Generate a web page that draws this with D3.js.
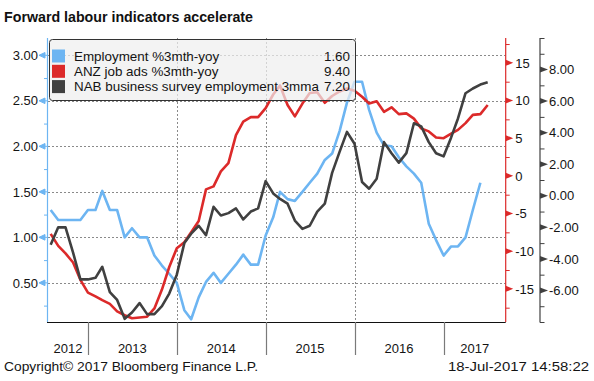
<!DOCTYPE html>
<html><head><meta charset="utf-8">
<script src="https://cdn.jsdelivr.net/npm/d3@7"></script>
<style>
html,body{margin:0;padding:0;background:#fff;}
svg text{font-family:"Liberation Sans",Arial,sans-serif;}
</style></head>
<body><svg id="c" width="594" height="381"></svg>
<script>
// ---------- data ----------
const months = ["2012-08","2012-09","2012-10","2012-11","2012-12",
"2013-01","2013-02","2013-03","2013-04","2013-05","2013-06","2013-07","2013-08","2013-09","2013-10","2013-11","2013-12",
"2014-01","2014-02","2014-03","2014-04","2014-05","2014-06","2014-07","2014-08","2014-09","2014-10","2014-11","2014-12",
"2015-01","2015-02","2015-03","2015-04","2015-05","2015-06","2015-07","2015-08","2015-09","2015-10","2015-11","2015-12",
"2016-01","2016-02","2016-03","2016-04","2016-05","2016-06","2016-07","2016-08","2016-09","2016-10","2016-11","2016-12",
"2017-01","2017-02","2017-03","2017-04","2017-05","2017-06","2017-07"];
const employment = [1.30,1.19,1.19,1.19,1.19,
1.30,1.30,1.51,1.30,1.30,1.00,1.10,1.00,1.00,0.80,0.69,0.60,
0.50,0.20,0.10,0.34,0.51,0.61,0.50,0.60,0.70,0.81,0.70,0.70,
1.02,1.22,1.50,1.42,1.40,1.50,1.60,1.70,1.85,1.92,2.17,2.48,
2.71,2.71,2.40,2.15,2.01,2.00,1.88,1.78,1.70,1.60,1.15,0.97,
0.80,0.90,0.90,1.00,1.30,1.60];
const jobAds = [-7.7,-9.3,-10.3,-11.5,-13.8,
-15.5,-16.0,-16.5,-17.0,-18.0,-18.5,-18.9,-18.8,-18.7,-17.6,-15.1,-12.1,
-9.6,-8.8,-7.5,-6.0,-1.8,-1.4,0.6,1.7,5.4,7.2,7.8,7.8,
9.0,10.8,12.0,9.4,7.9,9.6,11.0,11.1,9.7,10.6,11.2,11.6,
11.3,10.5,9.6,9.9,8.5,9.1,8.2,8.3,7.6,6.3,5.9,5.1,
5.0,5.6,6.1,7.0,8.1,8.2,9.4];
const nab = [-3.1,-2.0,-2.0,-3.6,-5.3,
-5.3,-5.2,-4.5,-6.1,-6.6,-7.8,-7.4,-6.8,-7.5,-7.5,-7.0,-6.2,
-5.0,-3.0,-2.4,-1.9,-2.5,-0.7,-1.25,-1.1,-0.8,-1.5,-1.0,-0.8,
0.93,0.15,-0.2,-0.5,-1.57,-2.1,-1.9,-1.0,-0.5,1.45,2.8,4.05,
3.3,0.87,0.45,1.08,3.4,2.7,2.1,2.7,4.6,4.4,3.4,2.7,
2.5,3.7,4.9,6.5,6.8,7.05,7.2];
const seriesNames = ["Employment %3mth-yoy","ANZ job ads %3mth-yoy","NAB business survey employment 3mma"];
const lastValues = ["1.60","9.40","7.20"];
const leftTicks = [0.5,1.0,1.5,2.0,2.5,3.0];
const redTicks = [-15,-10,-5,0,5,10,15];
const darkTicks = [-6,-4,-2,0,2,4,6,8];
const years = [2012,2013,2014,2015,2016,2017];
const gridYears = [2014,2015,2016];
const titleText = "Forward labour indicators accelerate";
const footLeft = "Copyright\u00A9 2017 Bloomberg Finance L.P.";
const footRight = "18-Jul-2017 14:58:22";

// ---------- layout ----------
const L = 48, R = 505.7, T = 38, B = 322, DX = 540;
const colBlue = "#6db5f2", colRed = "#dc2a2a", colDark = "#404040", txt = "#141414";
const parse = d3.timeParse("%Y-%m");
const dates = months.map(parse);
const x = d3.scaleTime().domain([new Date(2012,6,21), new Date(2017,8,13)]).range([L, R]);
const yL = d3.scaleLinear().domain([0.07, 3.19]).range([B, T]);
const yR = d3.scaleLinear().domain([-19.4, 18.3]).range([B, T]);
const yD = d3.scaleLinear().domain([-8, 10]).range([B, T]);

const svg = d3.select("#c");
svg.append("text").attr("x",4).attr("y",22).attr("font-size",14).attr("font-weight","bold")
  .attr("fill","#111").attr("textLength",249).attr("lengthAdjust","spacingAndGlyphs").text(titleText);

svg.append("defs").append("clipPath").attr("id","clip").append("rect")
  .attr("x",L).attr("y",T).attr("width",R-L).attr("height",B-T);

// gridlines
const grid = svg.append("g").attr("stroke","#8a8a8a").attr("stroke-dasharray","2,2").attr("stroke-width",1);
leftTicks.forEach(v=>grid.append("line").attr("x1",L).attr("x2",R).attr("y1",Math.round(yL(v))+0.5).attr("y2",Math.round(yL(v))+0.5));
gridYears.forEach(yr=>{const xx=Math.round(x(new Date(yr,0,1)))+0.5;
  grid.append("line").attr("x1",xx).attr("x2",xx).attr("y1",T).attr("y2",B);});

// lines
const plot = svg.append("g").attr("clip-path","url(#clip)");
function drawLine(vals, ys, col){
  const pts = vals.map((v,i)=>[dates[i], v]);
  plot.append("path").datum(pts).attr("fill","none").attr("stroke",col).attr("stroke-width",2.6)
    .attr("stroke-linejoin","round")
    .attr("d", d3.line().x(d=>x(d[0])).y(d=>ys(d[1])));
}
drawLine(employment, yL, colBlue);
drawLine(jobAds, yR, colRed);
drawLine(nab, yD, colDark);

// legend
const lg = svg.append("g");
lg.append("rect").attr("x",49.5).attr("y",39.5).attr("width",306).attr("height",61).attr("rx",3)
  .attr("fill","#efefef").attr("fill-opacity",0.72).attr("stroke","#333").attr("stroke-width",1);
[colBlue,colRed,colDark].forEach((c,i)=>{
  const cy = 56 + i*15.3;
  lg.append("rect").attr("x",52).attr("y",cy-6.5).attr("width",13).attr("height",13).attr("fill",c);
  lg.append("text").attr("x",74).attr("y",cy+4.5).attr("font-size",13.4).attr("fill",txt).text(seriesNames[i]);
  lg.append("text").attr("x",350).attr("y",cy+4.5).attr("font-size",13.4).attr("fill",txt).attr("text-anchor","end").text(lastValues[i]);
});

// left axis
const gl = svg.append("g").attr("transform",`translate(${L},0)`)
  .call(d3.axisLeft(yL).tickValues(leftTicks).tickFormat(d3.format(".2f")).tickSize(0).tickPadding(10));
gl.select(".domain").remove();
gl.selectAll("text").attr("font-size",13).attr("fill",txt).attr("font-family","Liberation Sans, Arial, sans-serif");
const glm = svg.append("g").attr("transform",`translate(${L},0)`)
  .call(d3.axisLeft(yL).tickValues(d3.range(0.25,3.2,0.5)).tickFormat("").tickSize(4));
glm.select(".domain").remove(); glm.selectAll("line").attr("stroke",colBlue);
leftTicks.forEach(v=>{const yy=yL(v);
  svg.append("path").attr("d",`M${L},${yy}L${L-3},${yy}M${L-3},${yy-2.8}L${L-9},${yy}L${L-3},${yy+2.8}Z`)
    .attr("fill",colBlue).attr("stroke",colBlue).attr("stroke-width",1);});
svg.append("line").attr("x1",L-0.5).attr("x2",L-0.5).attr("y1",T).attr("y2",B).attr("stroke",colBlue).attr("stroke-width",1.2);

// red axis
const gr = svg.append("g").attr("transform",`translate(${R},0)`)
  .call(d3.axisRight(yR).tickValues(redTicks).tickFormat(d3.format("d")).tickSize(0).tickPadding(9.5));
gr.select(".domain").remove();
gr.selectAll("text").attr("font-size",13).attr("fill",txt).attr("font-family","Liberation Sans, Arial, sans-serif")
  .text(d=>d<0?"-"+Math.abs(d):d);
const grm = svg.append("g").attr("transform",`translate(${R},0)`)
  .call(d3.axisRight(yR).tickValues(d3.range(-17.5,18,5)).tickFormat("").tickSize(4));
grm.select(".domain").remove(); grm.selectAll("line").attr("stroke",colRed);
redTicks.forEach(v=>{const yy=yR(v);
  svg.append("path").attr("d",`M${R},${yy-3}L${R+7.5},${yy}L${R},${yy+3}Z`).attr("fill",colRed);});
svg.append("line").attr("x1",R).attr("x2",R).attr("y1",T).attr("y2",B).attr("stroke",colRed).attr("stroke-width",1.2);

// dark axis
const gd = svg.append("g").attr("transform",`translate(${DX},0)`)
  .call(d3.axisRight(yD).tickValues(darkTicks).tickFormat(d=>d<0?"-"+d3.format(".2f")(-d):d3.format(".2f")(d)).tickSize(0).tickPadding(9));
gd.select(".domain").remove();
gd.selectAll("text").attr("font-size",13).attr("fill",txt).attr("font-family","Liberation Sans, Arial, sans-serif");
const gdm = svg.append("g").attr("transform",`translate(${DX},0)`)
  .call(d3.axisRight(yD).tickValues(d3.range(-7,10,2).concat([-8,10])).tickFormat("").tickSize(4.5));
gdm.select(".domain").remove(); gdm.selectAll("line").attr("stroke",colDark);
darkTicks.forEach(v=>{const yy=yD(v);
  svg.append("path").attr("d",`M${DX},${yy-3}L${DX+8},${yy}L${DX},${yy+3}Z`).attr("fill",colDark);});
svg.append("line").attr("x1",DX).attr("x2",DX).attr("y1",T).attr("y2",B+0.5).attr("stroke",colDark).attr("stroke-width",1.2);

// bottom axis
svg.append("line").attr("x1",L-1).attr("x2",R).attr("y1",B+0.5).attr("y2",B+0.5).attr("stroke","#111").attr("stroke-width",1.2);
years.slice(1).forEach(yr=>{const xx=Math.round(x(new Date(yr,0,1)))+0.5;
  svg.append("line").attr("x1",xx).attr("x2",xx).attr("y1",B).attr("y2",355).attr("stroke","#7a7a7a").attr("stroke-width",1.2);});
years.forEach(yr=>{
  const a = Math.max(L, x(new Date(yr,0,1))), b = Math.min(R, x(new Date(yr+1,0,1)));
  svg.append("text").attr("x",(a+b)/2).attr("y",353).attr("text-anchor","middle").attr("font-size",13)
    .attr("fill",txt).text(yr);
});

// footer
svg.append("text").attr("x",4).attr("y",371).attr("font-size",13).attr("fill",txt)
  .attr("textLength",254).attr("lengthAdjust","spacingAndGlyphs").text(footLeft);
svg.append("text").attr("x",448).attr("y",371).attr("font-size",13).attr("fill",txt)
  .attr("textLength",141).attr("lengthAdjust","spacingAndGlyphs").text(footRight);
</script></body></html>
